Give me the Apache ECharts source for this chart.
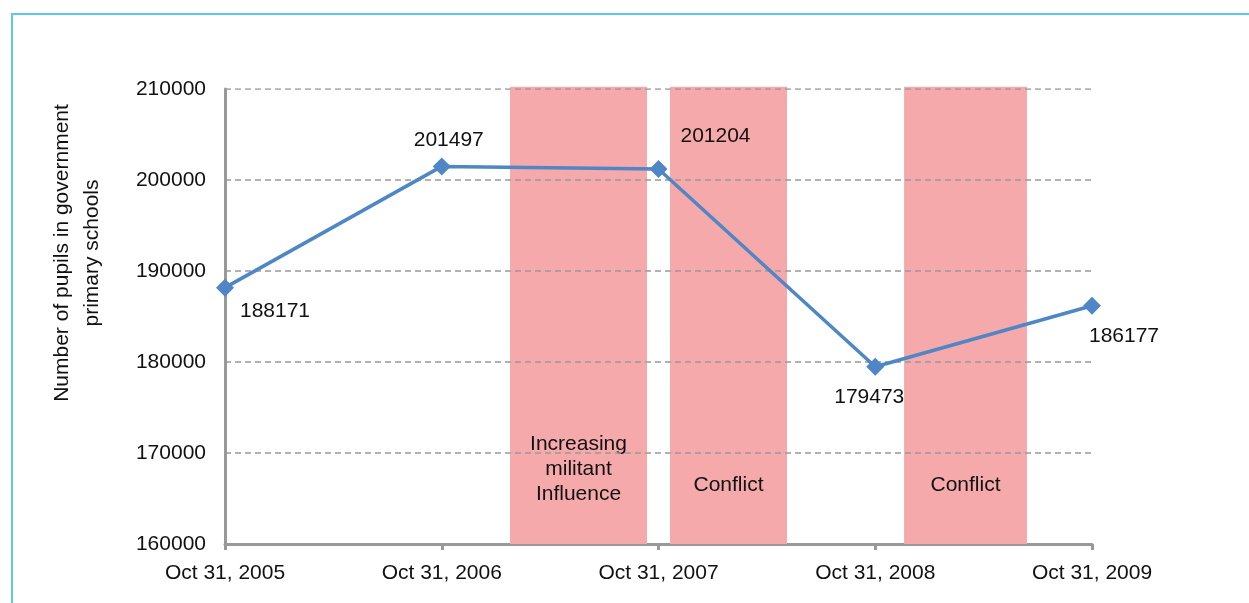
<!DOCTYPE html>
<html>
<head>
<meta charset="utf-8">
<script src="https://cdn.jsdelivr.net/npm/echarts@6/dist/echarts.min.js"></script>
<style>
html,body{margin:0;padding:0;background:#fff;}
#chart{width:1249px;height:603px;}
</style>
</head>
<body>
<div id="chart"></div>
<script>
// ---- data ----
const categories = ['Oct 31, 2005', 'Oct 31, 2006', 'Oct 31, 2007', 'Oct 31, 2008', 'Oct 31, 2009'];
const pupils = [188171, 201497, 201204, 179473, 186177];
const yTicks = [160000, 170000, 180000, 190000, 200000, 210000];
const bandLabels = ['Increasing\nmilitant\nInfluence', 'Conflict', 'Conflict'];
const bandStart = [1.315, 2.053, 3.133];
const bandEnd = [1.947, 2.593, 3.70];
const bandTop = 210250;
const yTitle = 'Number of pupils in government\nprimary schools';

// ---- styles ----
const labelOffsets = [[50, 24], [7, -26], [57, -33], [-6, 30], [32, 30]];
const bandLabelDist = [37, 46, 46];
const FONT = 'Liberation Sans, Arial, sans-serif';
const FS = 21;

const chart = echarts.init(document.getElementById('chart'), null, {renderer: 'canvas'});

const lineData = pupils.map((v, i) => ({
  value: [i, v],
  label: {show: true, position: 'inside', offset: labelOffsets[i]}
}));

const bandData = bandStart.map((s, i) => [s, bandEnd[i]]);

// dashed horizontal gridlines as series so they sit above the shaded bands
const gridSeries = yTicks.slice(1).map(v => ({
  type: 'line',
  data: [[0, v], [categories.length - 1, v]],
  symbol: 'none',
  silent: true,
  z: 4,
  lineStyle: {color: '#999', width: 1.5, type: [6, 4]}
}));

chart.setOption({
  animation: false,
  backgroundColor: '#fff',
  textStyle: {fontFamily: FONT},
  grid: {left: 225, right: 157, top: 89, bottom: 59},
  graphic: [
    {type: 'line', shape: {x1: 12, y1: 14, x2: 1249, y2: 14}, style: {stroke: '#5cc8ef', lineWidth: 2}},
    {type: 'line', shape: {x1: 12, y1: 13, x2: 12, y2: 603}, style: {stroke: '#5cc8ef', lineWidth: 2}},
    {type: 'text', x: 77, y: 253, rotation: Math.PI / 2,
     style: {text: yTitle, fontSize: FS, fontFamily: FONT, fill: '#111',
             align: 'center', verticalAlign: 'middle', lineHeight: 30}}
  ],
  xAxis: {
    type: 'value', min: 0, max: categories.length - 1, interval: 1,
    axisLine: {show: true, lineStyle: {color: '#999', width: 3}},
    axisTick: {show: true, length: 6, lineStyle: {color: '#999', width: 3}},
    splitLine: {show: false},
    axisLabel: {
      formatter: v => categories[v] || '',
      fontSize: FS, color: '#111', margin: 19, fontFamily: FONT
    }
  },
  yAxis: {
    type: 'value', min: yTicks[0], max: yTicks[yTicks.length - 1], interval: 10000,
    axisLine: {show: true, lineStyle: {color: '#999', width: 3}},
    axisTick: {show: false},
    splitLine: {show: false},
    axisLabel: {fontSize: FS, color: '#111', margin: 19, fontFamily: FONT,
                formatter: v => String(v)}
  },
  series: [{
    type: 'custom',
    data: bandData,
    z: 1,
    clip: false,
    silent: true,
    renderItem: function (params, api) {
      const bl = api.coord([api.value(0), yTicks[0]]);
      const tr = api.coord([api.value(1), bandTop]);
      const i = params.dataIndex;
      return {
        type: 'rect',
        shape: {x: bl[0], y: tr[1], width: tr[0] - bl[0], height: bl[1] - tr[1]},
        style: {fill: '#f5a9aa'},
        textContent: {
          style: {text: bandLabels[i], fontSize: FS, fontFamily: FONT, fill: '#111',
                  lineHeight: 25, align: 'center'}
        },
        textConfig: {position: 'insideBottom', distance: bandLabelDist[i]}
      };
    }
  }].concat(gridSeries, [{
    type: 'line',
    data: lineData,
    symbol: 'diamond',
    symbolSize: 18,
    lineStyle: {color: '#4f86c6', width: 3.5},
    itemStyle: {color: '#4f86c6'},
    label: {fontSize: FS, color: '#111', fontFamily: FONT},
    z: 5
  }])
});
</script>
</body>
</html>
